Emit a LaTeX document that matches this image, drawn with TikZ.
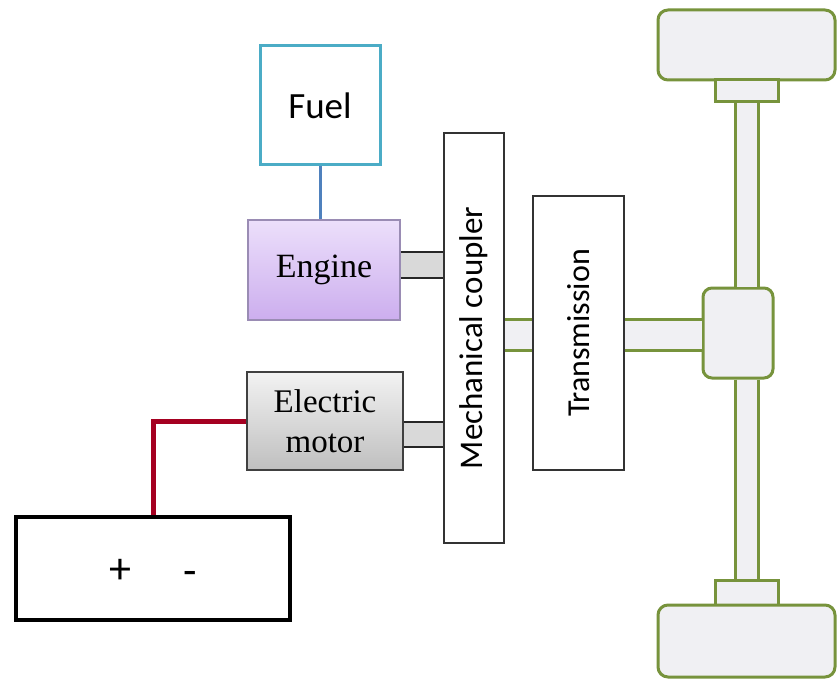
\documentclass[tikz,border=0pt]{standalone}
\usepackage{fontspec}
\setmainfont{Liberation Serif}
\newfontfamily\calibri{Carlito}

\definecolor{fuelteal}{HTML}{4BACC6}
\definecolor{pipeblue}{HTML}{4F81BD}
\definecolor{axlegreen}{HTML}{77933C}
\definecolor{wirered}{HTML}{A50021}
\definecolor{enginetop}{HTML}{ECDFFB}
\definecolor{enginebot}{HTML}{CCAEEE}
\definecolor{engineline}{HTML}{9A8CB4}
\definecolor{partfill}{HTML}{F0F0F3}
\definecolor{shaftgray}{HTML}{D9D9D9}

\tikzset{
  plainbox/.style={draw=black!80, line width=1.8pt, fill=white, inner sep=0pt},
  greenpart/.style={draw=axlegreen, line width=3pt, fill=partfill, inner sep=0pt},
  shaftline/.style={black!85, line width=1.8pt},
  axleline/.style={axlegreen, line width=3pt},
}

\begin{document}
\begin{tikzpicture}[x=1pt,y=-1pt]
\useasboundingbox (0,0) rectangle (840,679);

% energy sources
\node[draw=fuelteal, line width=3pt, fill=white, minimum width=120pt, minimum height=119pt,
  font=\calibri\fontsize{37}{42}\selectfont] (fuel) at (320,105.5) {Fuel};
\node[draw=engineline, line width=1.8pt, top color=enginetop, bottom color=enginebot,
  minimum width=152pt, minimum height=100pt, font=\fontsize{34}{40}\selectfont] (engine) at (324,270) {Engine};
\node[draw=black!75, line width=1.8pt, top color=white!95!black, bottom color=black!25,
  minimum width=156pt, minimum height=98pt, align=center,
  font=\fontsize{33}{40}\selectfont] (motor) at (325,421) {Electric\\motor};
\node[draw=black, line width=4pt, fill=white, minimum width=274pt, minimum height=103pt] (battery) at (153,568.5) {};
\node[anchor=base, font=\calibri\fontsize{44}{48}\selectfont] (plus) at (120,583) {+};
\node[anchor=base, font=\calibri\fontsize{44}{48}\selectfont] (minus) at (190,585) {-};

% drivetrain
\node[plainbox, minimum width=60pt, minimum height=410pt] (coupler) at (474,338) {};
\node[rotate=90, font=\calibri\fontsize{33}{38}\selectfont] (couplertext) at (coupler.center) {Mechanical coupler};
\node[plainbox, minimum width=91pt, minimum height=274pt] (trans) at (578.5,333) {};
\node[rotate=90, font=\calibri\fontsize{32}{38}\selectfont] (transtext) at (trans.center) {Transmission};
\node[greenpart, rounded corners=9pt, minimum width=70pt, minimum height=90pt] (diff) at (738,333) {};

% wheels
\node[greenpart, rounded corners=10pt, minimum width=177pt, minimum height=70pt] (topwheel) at (746.5,45) {};
\node[greenpart, minimum width=63pt, minimum height=22pt] (topblock) at (746.5,91) {};
\node[greenpart, minimum width=63pt, minimum height=25pt] (botblock) at (746.5,592.5) {};
\node[greenpart, rounded corners=10pt, minimum width=177pt, minimum height=72pt] (botwheel) at (746.5,641) {};

% links
\draw[pipeblue, line width=3pt] (fuel.south) -- (fuel.south |- engine.north);
\draw[wirered, line width=5pt] (battery.north) |- (motor.west);

\fill[shaftgray] (engine.east |- 0,252) rectangle (coupler.west |- 0,278);
\draw[shaftline] (engine.east |- 0,252) -- (coupler.west |- 0,252);
\draw[shaftline] (engine.east |- 0,278) -- (coupler.west |- 0,278);
\fill[shaftgray] (motor.east |- 0,422) rectangle (coupler.west |- 0,447);
\draw[shaftline] (motor.east |- 0,422) -- (coupler.west |- 0,422);
\draw[shaftline] (motor.east |- 0,447) -- (coupler.west |- 0,447);

\fill[partfill] (coupler.east |- 0,319) rectangle (trans.west |- 0,350);
\draw[axleline] (coupler.east |- 0,319) -- (trans.west |- 0,319);
\draw[axleline] (coupler.east |- 0,350) -- (trans.west |- 0,350);
\fill[partfill] (trans.east |- 0,319) rectangle (diff.west |- 0,350);
\draw[axleline] (trans.east |- 0,319) -- (diff.west |- 0,319);
\draw[axleline] (trans.east |- 0,350) -- (diff.west |- 0,350);

\fill[partfill] (topblock.south -| 735,0) rectangle (diff.north -| 758,0);
\draw[axleline] (topblock.south -| 735,0) -- (diff.north -| 735,0);
\draw[axleline] (topblock.south -| 758,0) -- (diff.north -| 758,0);
\fill[partfill] (diff.south -| 735,0) rectangle (botblock.north -| 758,0);
\draw[axleline] (diff.south -| 735,0) -- (botblock.north -| 735,0);
\draw[axleline] (diff.south -| 758,0) -- (botblock.north -| 758,0);
\end{tikzpicture}
\end{document}
